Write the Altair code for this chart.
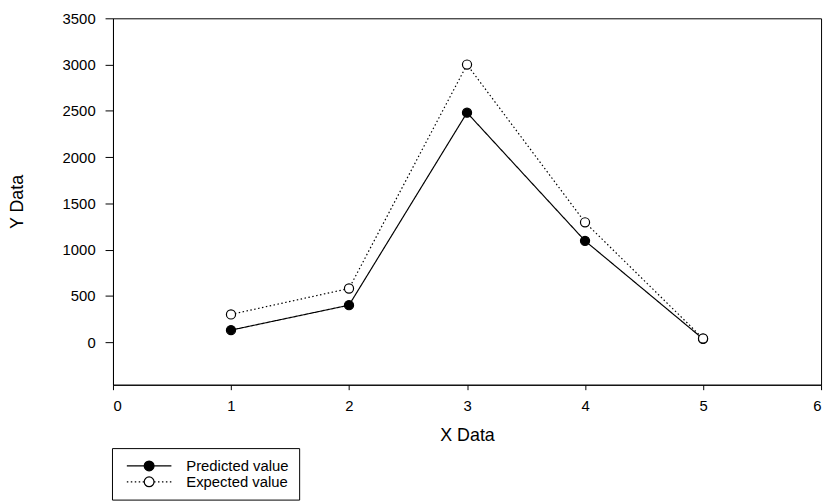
import altair as alt
import pandas as pd

x_vals = [1, 2, 3, 4, 5]
predicted = [130, 400, 2480, 1095, 35]
expected = [300, 580, 3000, 1295, 40]
series_names = ["Predicted value", "Expected value"]
x_ticks = [0, 1, 2, 3, 4, 5, 6]
y_ticks = [0, 500, 1000, 1500, 2000, 2500, 3000, 3500]

rows = []
for name, vals in zip(series_names, [predicted, expected]):
    for xv, yv in zip(x_vals, vals):
        rows.append({"x": xv, "y": yv, "series": name, "marker": name})
df = pd.DataFrame(rows)

FONT = "Liberation Sans"

line_path = "M-1,0L-0.22,0M0.22,0L1,0"
circle_path = "M0.22,0A0.22,0.22,0,1,1,-0.22,0A0.22,0.22,0,1,1,0.22,0Z"

x_enc = alt.X("x:Q", scale=alt.Scale(domain=[0, 6], nice=False, zero=False),
              axis=alt.Axis(values=x_ticks, title="X Data", format="d",
                            tickSize=5, labelPadding=9, titleY=51,
                            titleBaseline="middle"))
y_enc = alt.Y("y:Q", scale=alt.Scale(domain=[-460, 3500], nice=False, zero=False),
              axis=alt.Axis(values=y_ticks, title="Y Data", format="d",
                            tickSize=8, labelPadding=10, titleX=-96, titleY=185,
                            titleAngle=-90, titleBaseline="middle", titleAlign="center"))

lines = alt.Chart(df).mark_line(color="black", strokeWidth=1.2).encode(
    x=x_enc, y=y_enc,
    strokeDash=alt.StrokeDash(
        "series:N",
        scale=alt.Scale(domain=series_names, range=[[1, 0], [1.5, 2.5]]),
        legend=alt.Legend(
            title=None, orient="none", legendX=-1, legendY=434,
            symbolType=line_path, symbolSize=2025, symbolStrokeColor="black",
            symbolStrokeWidth=1.2, symbolFillColor="transparent",
            clipHeight=16, rowPadding=0, padding=10, labelOffset=14,
            labelFont=FONT, labelFontSize=15, labelColor="black",
            strokeColor="black", symbolOffset=4, labelLimit=400,
        ),
    ),
)

points = alt.Chart(df).mark_point(shape="circle", size=85, stroke="black",
                                  strokeWidth=1.2, opacity=1).encode(
    x=x_enc, y=y_enc,
    fill=alt.Fill(
        "marker:N", sort=series_names,
        scale=alt.Scale(range=["black", "white"]),
        legend=alt.Legend(
            title=None, orient="none", legendX=-1, legendY=434,
            symbolType=circle_path, symbolSize=2025, symbolStrokeColor="black",
            symbolStrokeWidth=1.2, symbolOpacity=1,
            clipHeight=16, rowPadding=0, padding=10, labelOffset=14,
            labelFont=FONT, labelFontSize=15, labelOpacity=0,
            symbolOffset=4, labelLimit=400,
        ),
    ),
)

chart = alt.layer(lines, points).properties(
    width=715, height=370,
    autosize=alt.AutoSizeParams(type="none"),
    padding={"left": 106, "top": 8, "right": 6, "bottom": 116},
).configure_view(
    stroke="black", strokeWidth=1
).configure_axis(
    grid=False, domainColor="black", tickColor="black", tickWidth=1,
    labelFont=FONT, labelFontSize=15, labelColor="black",
    titleFont=FONT, titleFontSize=18, titleColor="black", titleFontWeight="normal",
)

chart.save("out.html", embed_options={"renderer": "svg", "actions": False})
